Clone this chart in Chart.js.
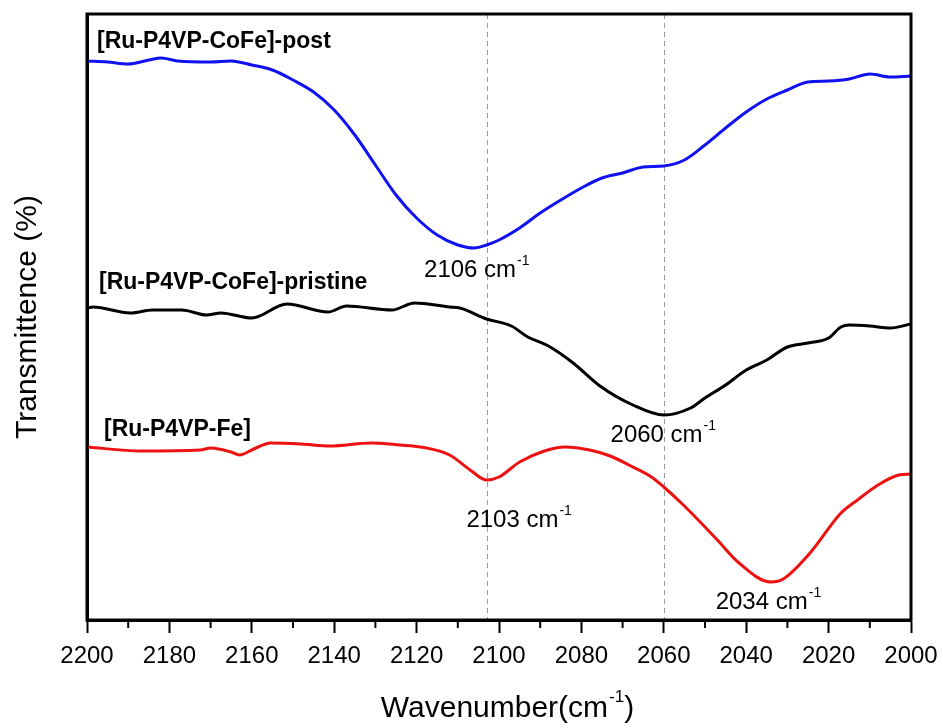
<!DOCTYPE html>
<html>
<head>
<meta charset="utf-8">
<script src="https://cdn.jsdelivr.net/npm/chart.js@4.4.0/dist/chart.umd.min.js"></script>
<style>
  body { margin: 0; background: #fff; }
  #wrap { width: 943px; height: 728px; }
</style>
</head>
<body>
<div id="wrap"><canvas id="ftir" width="943" height="728"></canvas></div>
<script>
// FTIR spectra, cyanide stretching region (transmittance in arbitrary units, offset per curve)
const postWn = [2200, 2195, 2190, 2185, 2182, 2178, 2170, 2165, 2160, 2155, 2150, 2145, 2140, 2135, 2130, 2125, 2120, 2115, 2110, 2106, 2103, 2100, 2095, 2090, 2085, 2080, 2075, 2070, 2065, 2060, 2055, 2050, 2045, 2040, 2035, 2030, 2025, 2020, 2015, 2010, 2005, 2000];
const postT = [559, 558, 556, 560, 562, 559, 558, 559, 555, 550, 540, 528, 510, 485, 455, 425, 402, 385, 375, 372, 375, 380, 392, 407, 420, 432, 442, 447, 453, 454, 460, 475, 492, 508, 521, 530, 538, 539, 541, 546, 543, 544];

const pristineWn = [2200, 2198.5, 2189.5, 2184, 2177, 2171, 2167.5, 2160, 2151.5, 2141.5, 2137, 2126, 2120.5, 2112, 2109.5, 2103, 2097, 2093, 2088, 2082, 2075.5, 2067.5, 2060, 2053.5, 2050, 2045, 2040, 2035, 2030, 2025, 2020, 2017, 2015, 2010, 2005, 2000];
const pristineT = [312, 313, 307, 310, 310, 305, 307, 302, 316, 308, 314, 310, 317, 313, 312, 301, 294, 283, 274, 257, 234, 215, 205, 212, 222, 235, 250, 260, 273, 277, 282, 293, 295, 294, 292, 296];

const feWn = [2200, 2187, 2172.5, 2170, 2165, 2163, 2159.5, 2155.5, 2148, 2141, 2131, 2124, 2119, 2112, 2107, 2103, 2100, 2095, 2089, 2084, 2078, 2073, 2068, 2063, 2060, 2055, 2047, 2042, 2034, 2031, 2024.5, 2017, 2013, 2008, 2003, 2000];
const feT = [173, 169, 170, 172, 168, 165, 171, 177, 176, 174, 177, 175, 173, 165, 150, 140, 143, 158, 169, 173, 170, 164, 154, 143, 133, 114, 80, 58, 38, 41, 67, 107, 120, 135, 145, 146];

const seriesNames = ['[Ru-P4VP-CoFe]-post', '[Ru-P4VP-CoFe]-pristine', '[Ru-P4VP-Fe]'];
const markerLines = [2103, 2060];
// peak labels: [dataset index, wavenumber]
const peaks = [[0, 2106], [1, 2060], [2, 2103], [2, 2034]];

function toPoints(wn, t) {
    return wn.map((x, i) => ({ x: x, y: t[i] }));
}

const FONT = '"Liberation Sans", Arial, Helvetica, sans-serif';

// draws text runs, raising the ones flagged sup
function drawRuns(ctx, runs, x, y, size, align) {
    const supSize = Math.round(size * 0.58);
    let total = 0;
    runs.forEach(r => {
        ctx.font = (r.sup ? supSize : size) + 'px ' + FONT;
        r.w = ctx.measureText(r.t).width;
        total += r.w;
    });
    let cx = align === 'center' ? x - total / 2 : x;
    ctx.textAlign = 'left';
    ctx.textBaseline = 'alphabetic';
    runs.forEach(r => {
        ctx.font = (r.sup ? supSize : size) + 'px ' + FONT;
        ctx.fillText(r.t, cx + (r.sup ? 1 : 0), r.sup ? y - size * 0.5 : y);
        cx += r.w + (r.sup ? 1 : 0);
    });
}

const extras = {
    id: 'extras',
    beforeDatasetsDraw(chart) {
        const ctx = chart.ctx, a = chart.chartArea, xs = chart.scales.x;
        ctx.save();
        ctx.strokeStyle = '#9a9a9a';
        ctx.lineWidth = 1;
        ctx.setLineDash([5, 4]);
        markerLines.forEach(v => {
            const px = Math.round(xs.getPixelForValue(v)) + 0.5;
            ctx.beginPath();
            ctx.moveTo(px, a.top);
            ctx.lineTo(px, a.bottom);
            ctx.stroke();
        });
        ctx.restore();
    },
    afterDraw(chart) {
        const ctx = chart.ctx, a = chart.chartArea, xs = chart.scales.x, ys = chart.scales.y;
        ctx.save();

        // frame
        ctx.strokeStyle = '#000';
        ctx.lineWidth = 3;
        ctx.strokeRect(a.left, a.top, a.right - a.left, a.bottom - a.top);

        // minor ticks every 10 cm-1
        ctx.lineWidth = 2;
        for (let v = 2010; v < 2200; v += 20) {
            const px = xs.getPixelForValue(v);
            ctx.beginPath();
            ctx.moveTo(px, a.bottom);
            ctx.lineTo(px, a.bottom + 8);
            ctx.stroke();
        }

        // curve names
        ctx.fillStyle = '#000';
        ctx.font = 'bold 23px ' + FONT;
        ctx.textAlign = 'left';
        ctx.fillText(seriesNames[0], 97, 48);
        ctx.fillText(seriesNames[1], 99, 289);
        ctx.fillText(seriesNames[2], 104, 436);

        // peak positions
        const offs = [[2, 29], [-1, 27], [32, 47], [-3, 27]];
        peaks.forEach((p, i) => {
            const ds = chart.data.datasets[p[0]].data;
            const pt = ds.find(d => d.x === p[1]);
            const px = xs.getPixelForValue(p[1]) + offs[i][0];
            const py = ys.getPixelForValue(pt.y) + offs[i][1];
            drawRuns(ctx, [{ t: p[1] + ' cm' }, { t: '-1', sup: true }], px, py, 24, 'center');
        });

        // x axis title
        drawRuns(ctx, [{ t: 'Wavenumber(cm' }, { t: '-1', sup: true }, { t: ')' }],
            (a.left + a.right) / 2 + 8, 717, 30, 'center');
        ctx.restore();
    }
};

const lineStyle = { borderWidth: 3, pointRadius: 0, cubicInterpolationMode: 'monotone', fill: false };

new Chart(document.getElementById('ftir').getContext('2d'), {
    type: 'line',
    data: {
        datasets: [
            Object.assign({ label: seriesNames[0], data: toPoints(postWn, postT), borderColor: '#1010f0' }, lineStyle),
            Object.assign({ label: seriesNames[1], data: toPoints(pristineWn, pristineT), borderColor: '#000000' }, lineStyle),
            Object.assign({ label: seriesNames[2], data: toPoints(feWn, feT), borderColor: '#ee1111' }, lineStyle)
        ]
    },
    options: {
        responsive: false,
        animation: false,
        layout: { padding: { top: 14, right: 32, left: 0, bottom: 0 } },
        plugins: { legend: { display: false }, tooltip: { enabled: false } },
        scales: {
            x: {
                type: 'linear',
                reverse: true,
                min: 2000,
                max: 2200,
                afterFit: s => { s.height = 108; s.paddingLeft = 0; s.paddingRight = 0; },
                ticks: {
                    stepSize: 20,
                    color: '#000',
                    padding: 9,
                    font: { family: FONT, size: 24 },
                    callback: v => String(v),
                    maxRotation: 0
                },
                grid: { drawOnChartArea: false, tickLength: 13, tickWidth: 2, tickColor: '#000' },
                border: { color: '#000', width: 3 }
            },
            y: {
                min: 0,
                max: 606,
                afterFit: s => { s.width = 87; },
                ticks: { display: false },
                grid: { display: false },
                border: { color: '#000', width: 3 },
                title: {
                    display: true,
                    text: 'Transmittence (%)',
                    color: '#000',
                    font: { family: FONT, size: 30 },
                    padding: { top: 10, bottom: 0 }
                }
            }
        }
    },
    plugins: [extras]
});
</script>
</body>
</html>
